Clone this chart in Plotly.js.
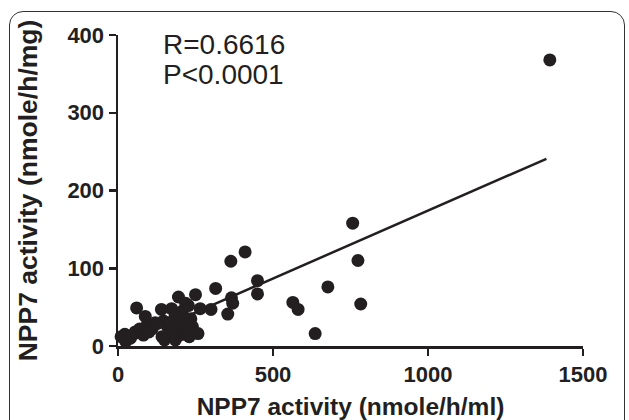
<!DOCTYPE html>
<html>
<head>
<meta charset="utf-8">
<script src="https://cdn.plot.ly/plotly-3.0.1.min.js"></script>
<style>
  html, body { margin: 0; padding: 0; background: #fff; }
  #wrap { position: relative; width: 629px; height: 420px; overflow: hidden; }
  #chart { width: 629px; height: 420px; }
  #frame { position: absolute; left: 9px; top: 11px; width: 614px; height: 440px;
           border: 1.5px solid #333; border-radius: 14px; pointer-events: none; }
</style>
</head>
<body>
<div id="wrap">
  <div id="chart"></div>
  <div id="frame"></div>
</div>
<script>
// NPP7 activity per ml (x) vs per mg (y)
const activityPerMl = [10, 22, 25, 40, 55, 60, 70, 82, 88, 95, 100, 110, 120, 140, 142, 147, 150, 160, 168, 173,
  178, 184, 185, 190, 195, 198, 200, 205, 208, 212, 215, 218, 222, 227, 230, 235, 240, 250, 258, 265,
  300, 315, 354, 364, 366, 370, 410, 450, 450, 564, 581, 636, 677, 757, 774, 783, 1393];
const activityPerMg = [12, 15, 6, 10, 18, 49, 22, 14, 38, 28, 18, 22, 30, 47, 12, 32, 8, 25, 30, 48,
  18, 38, 8, 22, 63, 14, 42, 28, 45, 35, 15, 55, 20, 52, 12, 35, 25, 66, 16, 48,
  47, 74, 41, 109, 62, 55, 121, 84, 67, 56, 47, 16, 76, 158, 110, 54, 368];
// linear regression
const fitSlope = 0.1746;
const fitIntercept = -0.5;
const statLines = ["R=0.6616", "P<0.0001"];
const xTicks = [0, 500, 1000, 1500];
const yTicks = [0, 100, 200, 300, 400];

const xMin = Math.min(...activityPerMl), xMax = 1382;
const fitX = [xMin, xMax];
const fitY = fitX.map(v => fitSlope * v + fitIntercept);

const ink = '#231f20';
const fam = 'Liberation Sans, Arial, Helvetica, sans-serif';
const traces = [
  { x: fitX, y: fitY, mode: 'lines', line: { color: ink, width: 2.5 }, hoverinfo: 'skip', cliponaxis: false },
  { x: activityPerMl, y: activityPerMg, mode: 'markers', cliponaxis: false,
    marker: { color: ink, size: 13, line: { width: 0 } } }
];

const tickFont = { family: fam, size: 22, color: ink, weight: 'bold' };

const layout = {
  width: 629, height: 420,
  margin: { l: 118, r: 46, t: 35, b: 74 },
  paper_bgcolor: '#fff', plot_bgcolor: '#fff',
  showlegend: false,
  xaxis: {
    range: [0, 1500], tickvals: xTicks, ticktext: xTicks.map(String), automargin: false,
    showgrid: false, zeroline: false, showline: true, linecolor: ink, linewidth: 2.5,
    ticks: 'outside', ticklen: 7, tickwidth: 2.5, tickcolor: ink,
    tickfont: tickFont,
    title: { text: 'NPP7 activity (nmole/h/ml)', font: { family: fam, size: 24.5, color: ink, weight: 'bold' }, standoff: 12 }
  },
  yaxis: {
    range: [0, 400], tickvals: yTicks, ticktext: yTicks.map(String), automargin: false,
    showgrid: false, zeroline: false, showline: true, linecolor: ink, linewidth: 2.5,
    ticks: 'outside', ticklen: 7, tickwidth: 2.5, tickcolor: ink,
    tickfont: tickFont,
    title: { text: 'NPP7 activity (nmole/h/mg)', font: { family: fam, size: 26.5, color: ink, weight: 'bold' }, standoff: 22 }
  },
  annotations: statLines.map((t, i) => ({
    xref: 'paper', yref: 'paper', x: 0.092, y: (346 - 56 - i * 29.5) / 311,
    xanchor: 'left', yanchor: 'bottom', yshift: -6,
    text: t, align: 'left', showarrow: false,
    font: { family: fam, size: 28, color: ink }
  }))
};

Plotly.newPlot('chart', traces, layout, { displayModeBar: false, staticPlot: true });
</script>
</body>
</html>
